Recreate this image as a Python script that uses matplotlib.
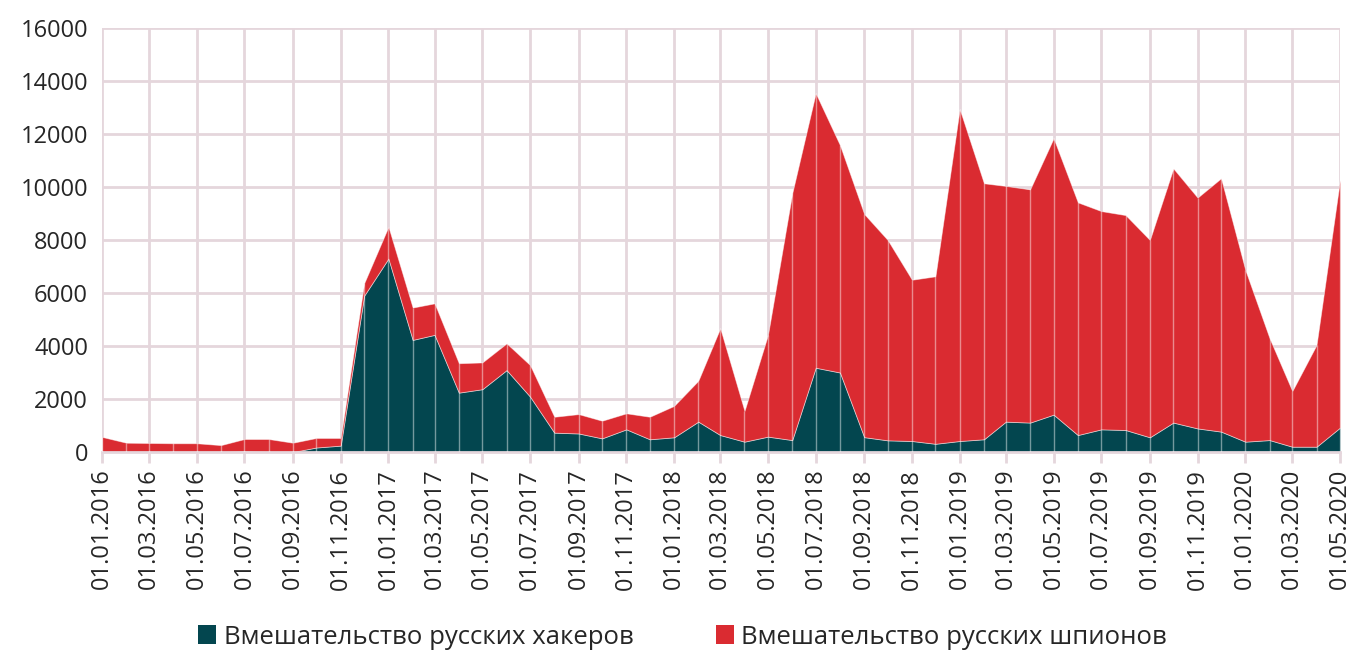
import matplotlib
matplotlib.use("Agg")
import matplotlib.pyplot as plt
import matplotlib.dates as mdates
from matplotlib.patches import Patch
import numpy as np
import pandas as pd

plt.rcParams['font.family'] = ['Open Sans', 'DejaVu Sans']

months = pd.date_range("2016-01-01", "2020-05-01", freq="MS")

hackers = [0, 0, 0, 0, 0, 0, 30, 0, 0, 170, 240, 5900,
           7300, 4230, 4420, 2240, 2370, 3090, 2090, 730, 700, 515, 855, 480,
           555, 1145, 640, 390, 580, 450, 3180, 3000, 560, 440, 415, 310,
           415, 480, 1145, 1110, 1410, 640, 855, 830, 555, 1110, 890, 770,
           390, 450, 200, 200, 920]

total = [570, 350, 340, 330, 330, 260, 490, 490, 350, 530, 530, 6370,
         8500, 5450, 5610, 3350, 3380, 4100, 3280, 1330, 1430, 1180, 1460, 1330,
         1740, 2690, 4670, 1550, 4420, 9760, 13540, 11580, 8980, 8000, 6500, 6630,
         12940, 10140, 10040, 9910, 11840, 9420, 9090, 8940, 8000, 10700, 9600, 10330,
         6870, 4290, 2300, 4040, 10260]

spies = [t - h for t, h in zip(total, hackers)]

labels = ["Вмешательство русских хакеров", "Вмешательство русских шпионов"]
colors = ["#03464F", "#DA2B31"]
grid_c = "#E5D6DC"

fig = plt.figure(figsize=(13.65, 6.51), dpi=100)
ax = fig.add_axes([102/1365, 1-452/651, (1340-102)/1365, (452-28)/651])

ax.stackplot(months, hackers, spies, colors=colors, linewidth=0.6,
             edgecolor=(1, 1, 1, 0.5), zorder=2)
ax.vlines(months, 0, total, colors=(1, 1, 1, 0.45), linewidth=1.0, zorder=3)

ax.set_xlim(months[0], months[-1])
ax.set_ylim(0, 16000)
ax.set_yticks(range(0, 16001, 2000))
ticks = months[::2]
ax.set_xticks(ticks)
ax.set_xticklabels([d.strftime("%d.%m.%Y") for d in ticks], rotation=90)

ax.grid(True, color=grid_c, linewidth=2.0, zorder=0)
ax.set_axisbelow(True)
for s in ["top", "right", "left"]:
    ax.spines[s].set_visible(False)
ax.spines["bottom"].set_color(grid_c)
ax.spines["bottom"].set_linewidth(2.0)
ax.tick_params(axis="x", length=8, width=2, color=grid_c, labelsize=17,
               labelcolor="#262626", pad=4)
ax.tick_params(axis="y", length=0, labelsize=17, labelcolor="#262626", pad=10)

handles = [Patch(facecolor=c, edgecolor="none") for c in colors]
fig.legend(handles, labels, loc="lower center", bbox_to_anchor=(0.5, 0.0),
           ncol=2, frameon=False, fontsize=18.5, handlelength=0.7,
           handleheight=0.75, handletextpad=0.3, columnspacing=3.2,
           borderpad=0.05, borderaxespad=0.0, labelcolor="#262626")

fig.savefig("out.png", dpi=100)
